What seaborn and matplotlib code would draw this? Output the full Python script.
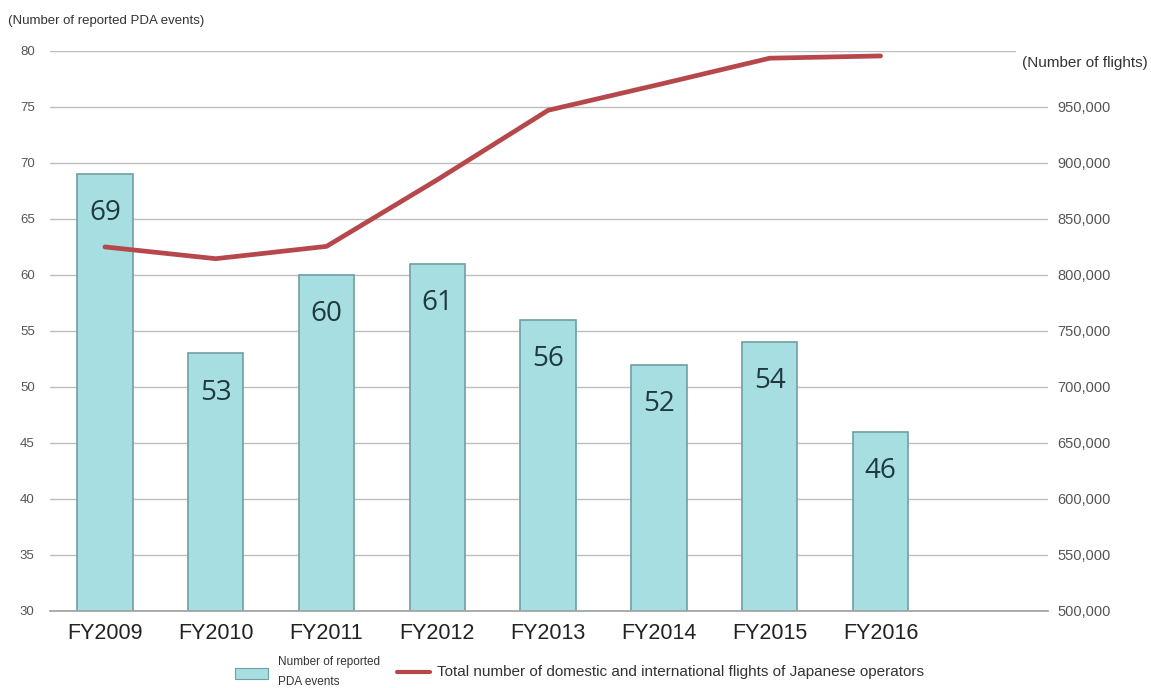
import numpy as np
import pandas as pd
import matplotlib
matplotlib.use("Agg")
import matplotlib.pyplot as plt
from matplotlib.patches import Rectangle
from matplotlib.lines import Line2D
import seaborn as sns

# data
years = ["FY2009", "FY2010", "FY2011", "FY2012", "FY2013", "FY2014", "FY2015", "FY2016"]
pda_events = [69, 53, 60, 61, 56, 52, 54, 46]
flights = [825000, 814500, 825500, 885000, 947000, 970000, 993500, 995500]
left_ticks = [30, 35, 40, 45, 50, 55, 60, 65, 70, 75, 80]
right_ticks = [500000, 550000, 600000, 650000, 700000, 750000, 800000, 850000, 900000, 950000]

bar_color = "#A7DEE2"
bar_edge = "#6E9FA3"
line_color = "#B6484C"
grid_color = "#BDBDBD"
text_color = "#333333"

sns.set_style("white")
plt.rcParams["font.family"] = ["Liberation Sans", "DejaVu Sans"]

df = pd.DataFrame({"year": years, "events": pda_events, "flights": flights})
pos = np.arange(len(years))

fig = plt.figure(figsize=(11.51, 6.88), dpi=100)
ax = fig.add_axes([0.0434, 0.112, 0.867, 0.814])

# gridlines; the top one stops short of the right-axis caption
for t in left_ticks:
    ax.axhline(t, color=grid_color, lw=1.0, zorder=0,
               xmax=0.967 if t == left_ticks[-1] else 1.0)

sns.barplot(data=df, x="year", y="events", color=bar_color, width=0.5,
            edgecolor=bar_edge, linewidth=1.2, saturation=1, ax=ax, zorder=2)

for i, v in enumerate(pda_events):
    ax.text(i, v - 3.5, str(v), ha="center", va="center", fontsize=20,
            color="#1F3A3F", family=["Open Sans", "DejaVu Sans"], zorder=4)

ax.set_ylim(30, 80)
ax.set_xlim(-0.496, 8.51)
ax.set_yticks(left_ticks)
ax.set_yticklabels([str(t) for t in left_ticks], fontsize=9.5, color="#555555")
ax.tick_params(axis="y", length=0, pad=11)
ax.tick_params(axis="x", length=0, pad=9, labelsize=15.5, labelcolor="#222222")
ax.set_xlabel("")
ax.set_ylabel("")
for s in ["top", "right", "left"]:
    ax.spines[s].set_visible(False)
ax.spines["bottom"].set_color("#9E9E9E")
ax.spines["bottom"].set_linewidth(1.2)

ax2 = ax.twinx()
sns.lineplot(x=pos, y=flights, color=line_color, lw=3.4, ax=ax2, zorder=3)
ax2.set_ylim(500000, 1000000)
ax2.set_yticks(right_ticks)
ax2.set_yticklabels([f"{t:,}" for t in right_ticks], fontsize=10.5, color="#555555")
ax2.tick_params(axis="y", length=0, pad=7)
for s in ["top", "right", "left", "bottom"]:
    ax2.spines[s].set_visible(False)
ax.set_zorder(ax2.get_zorder() - 1)
ax.patch.set_visible(False)

fig.text(0.007, 0.9695, "(Number of reported PDA events)", fontsize=9.5, color=text_color,
         va="center")
fig.text(0.9974, 0.9084, "(Number of flights)", fontsize=11, color=text_color,
         ha="right", va="center")

# legend built by hand below the axis
fig.patches.append(Rectangle((0.2042, 0.0131), 0.0287, 0.016, transform=fig.transFigure,
                             facecolor=bar_color, edgecolor=bar_edge, lw=0.8))
fig.text(0.2415, 0.0378, "Number of reported", fontsize=8.5, color=text_color, va="center")
fig.text(0.2415, 0.008, "PDA events", fontsize=8.5, color=text_color, va="center")
fig.lines.append(Line2D([0.345, 0.3736], [0.0233, 0.0233], transform=fig.transFigure,
                        color=line_color, lw=3))
fig.text(0.3797, 0.0233, "Total number of domestic and international flights of Japanese operators",
         fontsize=11, color=text_color, va="center")

fig.savefig("out.png", dpi=100)
